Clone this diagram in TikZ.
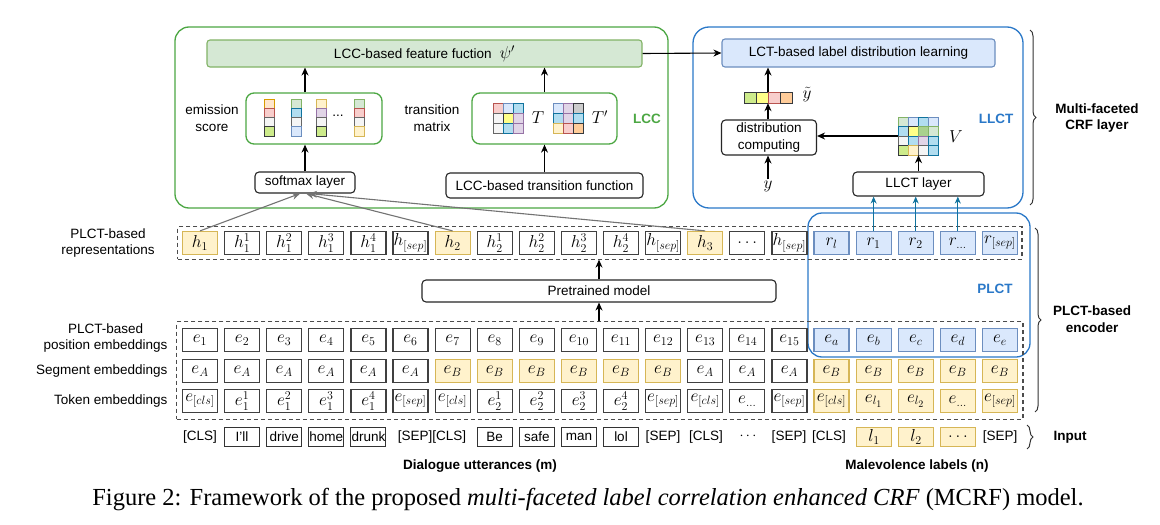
\documentclass[tikz,border=0pt]{standalone}
\usepackage{fontspec}
\setmainfont{Liberation Sans}
\newfontfamily\capfont{Liberation Serif}
\usetikzlibrary{arrows.meta,fit,decorations.pathreplacing,calc}
\definecolor{lccg}{HTML}{4CA743}
\definecolor{llctb}{HTML}{2A78C8}
\definecolor{ffill}{HTML}{D5E8D4}\definecolor{fline}{HTML}{82B366}
\definecolor{bfill}{HTML}{DAE8FC}\definecolor{bline}{HTML}{6C8EBF}
\definecolor{yfill}{HTML}{FFF2CC}\definecolor{yline}{HTML}{D6B656}
\definecolor{arrb}{HTML}{10739E}
\definecolor{cOR}{HTML}{FFE6CC}\definecolor{lOR}{HTML}{D79B00}
\definecolor{cRD}{HTML}{F8CECC}\definecolor{lRD}{HTML}{B85450}
\definecolor{cGY}{HTML}{F5F5F5}\definecolor{lGY}{HTML}{666666}
\definecolor{cLI}{HTML}{CDEB8B}\definecolor{lDK}{HTML}{36393D}
\definecolor{cBL}{HTML}{B1DDF0}\definecolor{lBL}{HTML}{10739E}
\definecolor{cPU}{HTML}{E1D5E7}\definecolor{lPU}{HTML}{9673A6}
\definecolor{cBY}{HTML}{FFFF88}\definecolor{cPE}{HTML}{FFCC99}
\definecolor{cDG}{HTML}{CCCCCC}\definecolor{cGR}{HTML}{A9D18E}
\begin{document}
\begin{tikzpicture}[x=1pt,y=-1pt,
  font=\fontsize{13.5}{16.5}\selectfont,
  arr/.style={-{Stealth[length=8,width=7]},line width=1.1,draw=black},
  garr/.style={-{Stealth[length=8,width=7]},line width=1.1,draw=black!55},
  barr/.style={-{Stealth[length=7,width=6]},line width=1.1,draw=arrb},
  cellbase/.style={minimum width=35,minimum height=23,inner sep=0,line width=1.2,font=\fontsize{17.28}{19}\selectfont},
  cellw/.style={cellbase,draw=black!75,fill=white},
  celly/.style={cellbase,draw=yline,fill=yfill},
  cellb/.style={cellbase,draw=bline,fill=bfill},
  wordbox/.style={draw=black!80,line width=1.1,minimum width=35,minimum height=19,inner sep=0},
  wordy/.style={wordbox,draw=yline,fill=yfill,font=\fontsize{17.28}{19}\selectfont},
  rbox/.style={draw=black!85,line width=1.1,rounded corners=4,fill=white,inner sep=0},
  gbox/.style={draw=lccg,line width=1.3,rounded corners=8,fill=white,inner sep=0},
  dbox/.style={draw=black!70,dash pattern=on 4pt off 3pt,line width=1.1},
  mini/.style={line width=0.8},
  m-or/.style={fill=cOR,draw=lOR}, m-rd/.style={fill=cRD,draw=lRD},
  m-gy/.style={fill=cGY,draw=lGY}, m-li/.style={fill=cLI,draw=lDK},
  m-lg/.style={fill=ffill,draw=fline}, m-bl/.style={fill=cBL,draw=lBL},
  m-lb/.style={fill=bfill,draw=bline}, m-ye/.style={fill=yfill,draw=yline},
  m-pu/.style={fill=cPU,draw=lPU}, m-by/.style={fill=cBY,draw=lDK},
  m-pe/.style={fill=cPE,draw=lDK}, m-dg/.style={fill=cDG,draw=lDK},
  m-gr/.style={fill=cGR,draw=fline},
  brc/.style={decorate,decoration={brace,amplitude=6},line width=1,draw=black!80},
  lbl/.style={align=center,font=\fontsize{13.5}{16.5}\selectfont\bfseries},
  mth/.style={font=\fontsize{17.28}{19}\selectfont,inner sep=1}
]
\fill[white] (0,0) rectangle (1160,525);
\path[use as bounding box] (0,0) rectangle (1160,525);

% ---------- big boxes ----------
\node[draw=lccg,line width=1.3,rounded corners=14,minimum width=493,minimum height=181,inner sep=0] (lcc) at (421.5,117.5) {};
\node[draw=llctb,line width=1.3,rounded corners=16,minimum width=330,minimum height=181,inner sep=0] (llctbox) at (858,117.5) {};
\node[draw=llctb,line width=1.3,rounded corners=14,minimum width=222,minimum height=144,inner sep=0] (plct) at (919,285) {};

% ---------- LCC part ----------
\node[draw=fline,fill=ffill,line width=1.1,rounded corners=3,minimum width=435,minimum height=27,inner sep=0] (feat) at (424.5,53.5) {LCC-based feature fuction\hspace{8pt}{\fontsize{17.28}{19}\selectfont$\psi'$}};
\node[gbox,minimum width=136,minimum height=51] (emis) at (314,118.5) {};
\node[align=center] (emisl) at (212,118) {emission\\score};
\node[gbox,minimum width=145,minimum height=51] (trans) at (544.5,118.5) {};
\node[align=center] (transl) at (432,118) {transition\\matrix};
\node[rbox,minimum width=100,minimum height=21] (sm) at (305,182.5) {softmax layer};
\node[rbox,minimum width=197,minimum height=25] (ltf) at (544.5,185.5) {LCC-based transition function};
\node[text=lccg,font=\fontsize{13.5}{16}\selectfont\bfseries] (lccl) at (647,119) {LCC};

% emission columns
\foreach \cx/\ca/\cb/\cc/\cd in {264/m-or/m-rd/m-gy/m-li, 291/m-lg/m-bl/m-gy/m-lb, 316/m-ye/m-pu/m-gy/m-li, 354/m-lg/m-rd/m-gy/m-ye}{
  \draw[mini,\ca] (\cx,99) rectangle ++(10,9.25);
  \draw[mini,\cb] (\cx,108.25) rectangle ++(10,9.25);
  \draw[mini,\cc] (\cx,117.5) rectangle ++(10,9.25);
  \draw[mini,\cd] (\cx,126.75) rectangle ++(10,9.25);
}
\node (edots) at (338,116) {...};

% transition matrices
\foreach \cl [count=\k from 0] in {m-rd,m-lb,m-bl,m-gy,m-by,m-pu,m-gy,m-bl,m-pu}{
  \pgfmathtruncatemacro\rr{floor(\k/3)}\pgfmathtruncatemacro\cc{mod(\k,3)}
  \draw[mini,\cl] ({493+10*\cc},{103+10*\rr}) rectangle ++(10,10);
}
\foreach \cl [count=\k from 0] in {m-lb,m-pu,m-dg,m-bl,m-pu,m-bl,m-ye,m-rd,m-pe}{
  \pgfmathtruncatemacro\rr{floor(\k/3)}\pgfmathtruncatemacro\cc{mod(\k,3)}
  \draw[mini,\cl] ({553+10*\cc},{103+10*\rr}) rectangle ++(10,10);
}
\node[mth] (Tl) at (538,118) {$T$};
\node[mth] (Tpl) at (600,117) {$T'$};

\draw[arr] (sm.north) -- (sm.north |- emis.south);
\draw[arr] (sm.north |- emis.north) -- (sm.north |- feat.south);
\draw[arr] (ltf.north) -- (trans.south);
\draw[arr] (trans.north) -- (trans.north |- feat.south);

% ---------- LLCT part ----------
\node[draw=bline,fill=bfill,line width=1.1,rounded corners=3,minimum width=273,minimum height=28,inner sep=0] (lct) at (858.5,53) {LCT-based label distribution learning};
\draw[arr] (feat.east) -- (lct.west);
\node[minimum width=48,minimum height=11,inner sep=0] (yv) at (768,97.5) {};
\foreach \cl [count=\k from 0] in {m-li,m-by,m-rd,m-pe}{
  \draw[mini,\cl] ({744+12*\k},92) rectangle ++(12,11);
}
\node[mth] (ytl) at (807,95) {$\tilde{y}$};
\node[rbox,align=center,minimum width=95,minimum height=35] (dist) at (769,137.5) {distribution\\computing};
\node[mth] (ylab) at (768,186) {$y$};
\node[minimum width=40,minimum height=38,inner sep=0] (Vm) at (918,136) {};
\foreach \cl [count=\k from 0] in {m-lg,m-lb,m-bl,m-lb, m-bl,m-by,m-gr,m-lg, m-gy,m-bl,m-pu,m-bl, m-li,m-ye,m-gy,m-bl}{
  \pgfmathtruncatemacro\rr{floor(\k/4)}\pgfmathtruncatemacro\cc{mod(\k,4)}
  \draw[mini,\cl] ({898+10*\cc},{117+9.5*\rr}) rectangle ++(10,9.5);
}
\node[mth] (Vl) at (956,137) {$V$};
\node[rbox,minimum width=131,minimum height=24] (llct) at (918.5,184) {LLCT layer};
\node[text=llctb,font=\fontsize{13.5}{16}\selectfont\bfseries] (llctl) at (996,119) {LLCT};

\draw[arr] (yv.south |- dist.north) -- (yv.south);
\draw[arr] (yv.north) -- (yv.north |- lct.south);
\draw[arr] (ylab.north) -- (ylab.north |- dist.south);
\draw[arr] (Vm.west) -- (Vm.west -| dist.east);
\draw[arr] (llct.north) -- (llct.north |- Vm.south);

% ---------- PLCT-based representations ----------
\foreach \lab/\sty [count=\i from 0] in {h_1/celly, h_1^1/cellw, h_1^2/cellw, h_1^3/cellw, h_1^4/cellw, {h_{[sep]}}/cellw, h_2/celly, h_2^1/cellw, h_2^2/cellw, h_2^3/cellw, h_2^4/cellw, {h_{[sep]}}/cellw, h_3/celly, \dots/cellw, {h_{[sep]}}/cellw, r_l/cellb, r_1/cellb, r_2/cellb, {r_{\dots}}/cellb, {r_{[sep]}}/cellb}
  \node[\sty] (p\i) at ({200+42.1*\i},243) {$\lab$};
\node[dbox,fit=(p0)(p19),inner xsep=4,inner ysep=4] (prow) {};

% ---------- embeddings ----------
\foreach \i in {0,...,14}{
  \pgfmathtruncatemacro\n{\i+1}
  \node[cellw] (q\i) at ({200+42.1*\i},340) {$e_{\n}$};
}
\foreach \lt [count=\j from 15] in {a,b,c,d,e}
  \node[cellb] (q\j) at ({200+42.1*\j},340) {$e_{\lt}$};
\foreach \sty/\lt [count=\i from 0] in {cellw/A,cellw/A,cellw/A,cellw/A,cellw/A,cellw/A,celly/B,celly/B,celly/B,celly/B,celly/B,celly/B,cellw/A,cellw/A,cellw/A,celly/B,celly/B,celly/B,celly/B,celly/B}
  \node[\sty] (s\i) at ({200+42.1*\i},371) {$e_{\lt}$};
\foreach \lab/\sty [count=\i from 0] in {{e_{[cls]}}/cellw, e_1^1/cellw, e_1^2/cellw, e_1^3/cellw, e_1^4/cellw, {e_{[sep]}}/cellw, {e_{[cls]}}/cellw, e_2^1/cellw, e_2^2/cellw, e_2^3/cellw, e_2^4/cellw, {e_{[sep]}}/cellw, {e_{[cls]}}/cellw, {e_{\dots}}/cellw, {e_{[sep]}}/cellw, {e_{[cls]}}/celly, {e_{l_1}}/celly, {e_{l_2}}/celly, {e_{\dots}}/celly, {e_{[sep]}}/celly}
  \node[\sty] (t\i) at ({200+42.1*\i},401) {$\lab$};
\node[dbox,fit=(q0)(t19),inner xsep=5,inner ysep=6] (emb) {};

\node[rbox,minimum width=354,minimum height=22] (pre) at (599,291) {Pretrained model};
\draw[arr] (emb.north -| pre.south) -- (pre.south);
\draw[arr] (pre.north) -- (pre.north |- prow.south);
\node[text=llctb,font=\fontsize{13.5}{16}\selectfont\bfseries] (plctl) at (995,289) {PLCT};

% connectors from representations
\draw[garr] (p0.north) -- ([xshift=-5]sm.south);
\draw[garr] (p6.north) -- ([xshift=1]sm.south);
\draw[garr] (p12.north) -- ([xshift=4]sm.south);
\foreach \k in {16,17,18} \draw[barr] (p\k.north) -- (p\k.north |- llct.south);

% ---------- row labels ----------
\node[align=center] (lrep) at (108,243) {PLCT-based\\representations};
\node[align=center,anchor=east] (lpos) at (171,338) {PLCT-based\\position embeddings};
\node[anchor=east] (lseg) at (171,371) {Segment embeddings};
\node[anchor=east] (ltok) at (171,401) {Token embeddings};

% ---------- input ----------
\node (in0) at (200,437) {[CLS]};
\foreach \w [count=\j from 1] in {I'll,drive,home,drunk}
  \node[wordbox] (in\j) at ({200+42.1*\j},437) {\w};
\node (in5) at (432,437) {[SEP][CLS]};
\foreach \w [count=\j from 7] in {Be,safe,man,lol}
  \node[wordbox] (in\j) at ({200+42.1*\j},437) {\w};
\node (in11) at (663,437) {[SEP]};
\node (in12) at (706,437) {[CLS]};
\node (in13) at (748,436) {$\cdots$};
\node (in14) at (789,437) {[SEP]};
\node (in15) at (829,437) {[CLS]};
\node[wordy] (in16) at (874,437) {$l_1$};
\node[wordy] (in17) at (916,437) {$l_2$};
\node[wordy] (in18) at (958,437) {$\dots$};
\node (in19) at (1000,437) {[SEP]};

\node[lbl] (dlab) at (480,466) {Dialogue utterances (m)};
\node[lbl] (mlab) at (917,466) {Malevolence labels (n)};

% ---------- braces ----------
\draw[brc] (1030,30) -- (1030,205);
\node[lbl] (b1) at (1097,118) {Multi-faceted\\CRF layer};
\draw[brc] (1035,228) -- (1035,412);
\node[lbl] (b2) at (1092,319) {PLCT-based\\encoder};
\draw[brc] (1027,425) -- (1027,449);
\node[lbl] (b3) at (1070,437) {Input};

% ---------- caption ----------
\node[font=\capfont\fontsize{24.5}{28}\selectfont] (cap) at (588,500) {Figure 2: Framework of the proposed \textit{multi-faceted label correlation enhanced CRF} (MCRF) model.};
\end{tikzpicture}
\end{document}
